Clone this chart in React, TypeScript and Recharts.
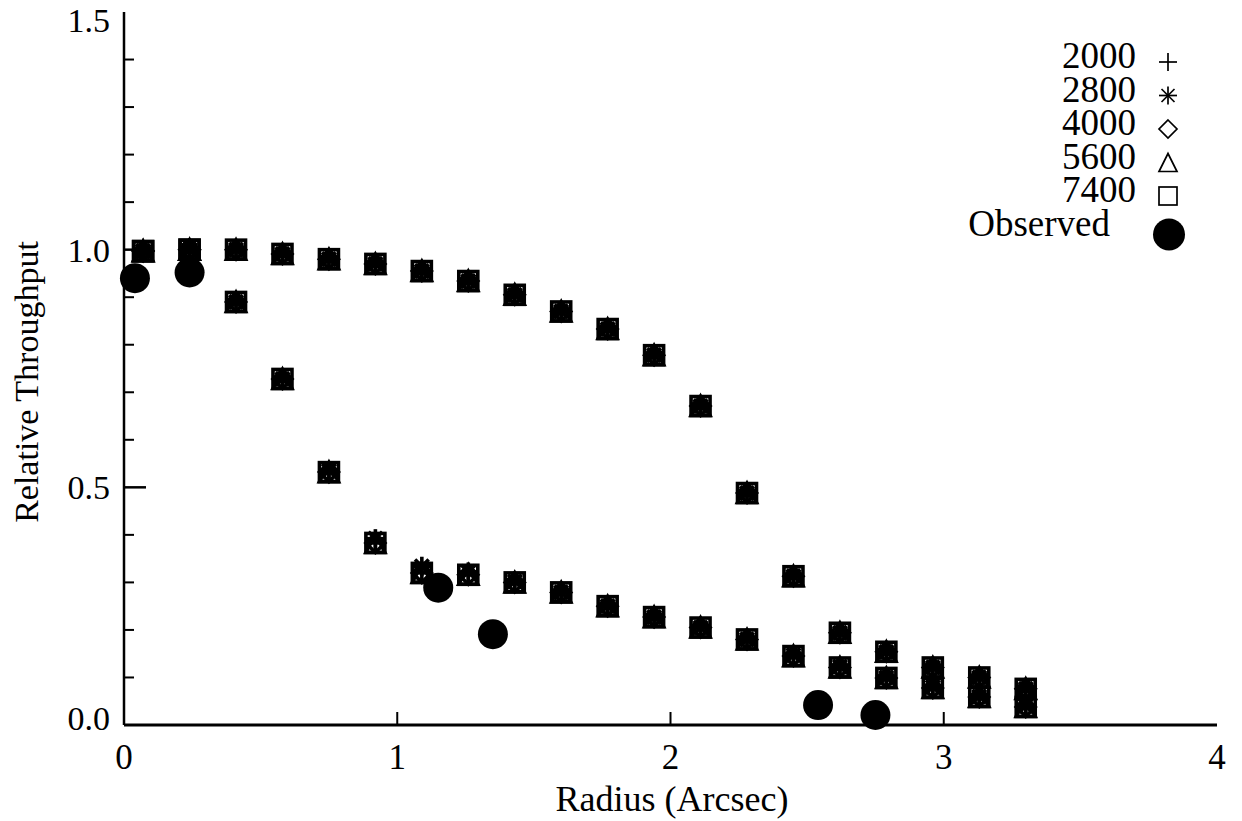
import { ScatterChart, Scatter, XAxis, YAxis, Legend, Label } from 'recharts';

const WAVELENGTHS = ['2000', '2800', '4000', '5600', '7400'];
const MARKERS = ['plus', 'star', 'diamond', 'triangle', 'square'];

// model sampling radii (arcsec), shared by both model curves
const MODEL_RADIUS = [
  0.07, 0.24, 0.41, 0.58, 0.75, 0.92, 1.09, 1.26, 1.43, 1.6,
  1.77, 1.94, 2.11, 2.28, 2.45, 2.62, 2.79, 2.96, 3.13, 3.3,
];
const UPPER_CURVE = [
  0.997, 1.0, 1.0, 0.991, 0.98, 0.97, 0.955, 0.934, 0.905, 0.87,
  0.833, 0.778, 0.671, 0.488, 0.313, 0.194, 0.154, 0.121, 0.1, 0.076,
];
const LOWER_CURVE = [
  0.997, 1.0, 0.89, 0.728, 0.532, 0.383, 0.32, 0.316, 0.3, 0.279,
  0.25, 0.227, 0.205, 0.18, 0.145, 0.121, 0.099, 0.078, 0.059, 0.038,
];
// 2800 sits a touch higher near 1 arcsec
const LOWER_CURVE_2800 = [
  0.997, 1.0, 0.89, 0.728, 0.535, 0.392, 0.334, 0.322, 0.302, 0.279,
  0.25, 0.227, 0.205, 0.18, 0.147, 0.123, 0.1, 0.08, 0.06, 0.04,
];

const OBS_RADIUS = [0.04, 0.24, 1.15, 1.35, 2.54, 2.75];
const OBS_VALUE = [0.94, 0.952, 0.289, 0.191, 0.042, 0.021];

const X_TICKS = [0, 1, 2, 3, 4];
const Y_TICKS = [0, 0.1, 0.2, 0.3, 0.4, 0.5, 0.6, 0.7, 0.8, 0.9, 1.0, 1.1, 1.2, 1.3, 1.4, 1.5];

const FONT = '"Liberation Serif", "Times New Roman", serif';

const isMajor = (v: number) => Math.abs(v * 2 - Math.round(v * 2)) < 1e-6;

function Marker({ kind, cx, cy, s, w }: { kind: string; cx: number; cy: number; s: number; w: number }) {
  const p = { stroke: '#000', strokeWidth: w, fill: 'none' };
  if (kind === 'plus') {
    return (
      <g {...p}>
        <line x1={cx - s} x2={cx + s} y1={cy} y2={cy} />
        <line x1={cx} x2={cx} y1={cy - s} y2={cy + s} />
      </g>
    );
  }
  if (kind === 'star') {
    const d = s * 0.72;
    return (
      <g {...p}>
        <line x1={cx - s} x2={cx + s} y1={cy} y2={cy} />
        <line x1={cx} x2={cx} y1={cy - s} y2={cy + s} />
        <line x1={cx - d} x2={cx + d} y1={cy - d} y2={cy + d} />
        <line x1={cx - d} x2={cx + d} y1={cy + d} y2={cy - d} />
      </g>
    );
  }
  if (kind === 'diamond') {
    return <polygon {...p} points={`${cx},${cy - s} ${cx + s},${cy} ${cx},${cy + s} ${cx - s},${cy}`} />;
  }
  if (kind === 'triangle') {
    return <polygon {...p} points={`${cx - s},${cy + s} ${cx + s},${cy + s} ${cx},${cy - s}`} />;
  }
  return <rect {...p} x={cx - s} y={cy - s} width={2 * s} height={2 * s} />;
}

function LeftTick({ x, y, payload }: any) {
  const v = payload.value;
  const major = isMajor(v);
  const edge = v <= 0 || v >= 1.5;
  // end labels are nudged inside the frame
  const nudge = v >= 1.5 ? 8 : v <= 0 ? -7 : 0;
  return (
    <g>
      {!edge && (
        <line x1={x} x2={x + (major ? 22 : 10)} y1={y} y2={y} stroke="#000" strokeWidth={major ? 2.5 : 2} />
      )}
      {major && (
        <text x={x - 14} y={y + 12 + nudge} textAnchor="end" fontFamily={FONT} fontSize={34} fill="#000">
          {v.toFixed(1)}
        </text>
      )}
    </g>
  );
}

function RightTick({ x, y, payload }: any) {
  const v = payload.value;
  const major = isMajor(v);
  if (v <= 0 || v >= 1.5) return <g />;
  return <line x1={x} x2={x - (major ? 22 : 10)} y1={y} y2={y} stroke="#000" strokeWidth={major ? 2.5 : 2} />;
}

function BottomTick({ x, y, payload }: any) {
  const v = payload.value;
  return (
    <g>
      {v > 0 && v < 4 && <line x1={x} x2={x} y1={y} y2={y - 13} stroke="#000" strokeWidth={2} />}
      <text x={x} y={y + 44} textAnchor="middle" fontFamily={FONT} fontSize={35} fill="#000">
        {v}
      </text>
    </g>
  );
}

function TopTick({ x, y, payload }: any) {
  const v = payload.value;
  if (v <= 0 || v >= 4) return <g />;
  return <line x1={x} x2={x} y1={y} y2={y + 13} stroke="#000" strokeWidth={2} />;
}

function LegendBlock() {
  const rowY = (i: number) => 26 + i * 33.5;
  const textX = 236;
  const markX = 268;
  return (
    <svg width={300} height={240} style={{ overflow: 'visible' }}>
      {WAVELENGTHS.map((w, i) => (
        <g key={w}>
          <text x={textX} y={rowY(i) + 12} textAnchor="end" fontFamily={FONT} fontSize={37} fill="#000">
            {w}
          </text>
          <Marker kind={MARKERS[i]} cx={markX} cy={rowY(i) + 6} s={9} w={1.7} />
        </g>
      ))}
      <text x={textX - 26} y={rowY(5) + 12} textAnchor="end" fontFamily={FONT} fontSize={37} fill="#000">
        Observed
      </text>
      <circle cx={markX + 1} cy={rowY(5) + 11} r={16} fill="#000" />
    </svg>
  );
}

const modelData = (low: number[]) => [
  ...MODEL_RADIUS.map((r, i) => ({ r, v: UPPER_CURVE[i] })),
  ...MODEL_RADIUS.map((r, i) => ({ r, v: low[i] })),
];

const observed = OBS_RADIUS.map((r, i) => ({ r, v: OBS_VALUE[i] }));

export default function App() {
  return (
    <div style={{ width: 1242, height: 821, background: '#fff', position: 'relative' }}>
      <style>{'body{margin:0;background:#fff}'}</style>
      <ScatterChart width={1242} height={821} margin={{ top: 12, right: 25, bottom: 0, left: 0 }}>
        <XAxis
          xAxisId={0}
          type="number"
          dataKey="r"
          domain={[0, 4]}
          ticks={X_TICKS}
          interval={0}
          height={96}
          tickSize={0}
          tickMargin={0}
          tickLine={false}
          tick={BottomTick}
          axisLine={{ stroke: '#000', strokeWidth: 3 }}
        >
          <Label
            content={() => (
              <text x={672} y={811} textAnchor="middle" fontFamily={FONT} fontSize={36} fill="#000">
                Radius (Arcsec)
              </text>
            )}
          />
        </XAxis>
        <XAxis
          xAxisId="top"
          orientation="top"
          type="number"
          dataKey="r"
          domain={[0, 4]}
          ticks={X_TICKS}
          interval={0}
          height={0}
          tickSize={0}
          tickMargin={0}
          tickLine={false}
          tick={TopTick}
          axisLine={{ stroke: '#000', strokeWidth: 2 }}
        />
        <YAxis
          yAxisId={0}
          type="number"
          dataKey="v"
          domain={[0, 1.5]}
          ticks={Y_TICKS}
          interval={0}
          width={124}
          tickSize={0}
          tickMargin={0}
          tickLine={false}
          tick={LeftTick}
          axisLine={{ stroke: '#000', strokeWidth: 2.5 }}
        >
          <Label
            content={() => (
              <text
                x={38}
                y={382}
                transform="rotate(-90 38 382)"
                textAnchor="middle"
                fontFamily={FONT}
                fontSize={34}
                fill="#000"
              >
                Relative Throughput
              </text>
            )}
          />
        </YAxis>
        <YAxis
          yAxisId="right"
          orientation="right"
          type="number"
          dataKey="v"
          domain={[0, 1.5]}
          ticks={Y_TICKS}
          interval={0}
          width={0}
          tickSize={0}
          tickMargin={0}
          tickLine={false}
          tick={RightTick}
          axisLine={{ stroke: '#000', strokeWidth: 2 }}
        />
        {WAVELENGTHS.map((w, i) => (
          <Scatter
            key={w}
            name={w}
            xAxisId={0}
            yAxisId={0}
            data={modelData(w === '2800' ? LOWER_CURVE_2800 : LOWER_CURVE)}
            isAnimationActive={false}
            shape={(p: any) => <Marker kind={MARKERS[i]} cx={p.cx} cy={p.cy} s={9.5} w={3.6} />}
          />
        ))}
        <Scatter
          name="Observed"
          xAxisId={0}
          yAxisId={0}
          data={observed}
          isAnimationActive={false}
          shape={(p: any) => <circle cx={p.cx} cy={p.cy} r={15} fill="#000" />}
        />
        <Legend
          layout="vertical"
          align="center"
          verticalAlign="middle"
          content={() => <LegendBlock />}
          wrapperStyle={{ left: 900, top: 30, width: 300, height: 240 }}
        />
      </ScatterChart>
    </div>
  );
}
